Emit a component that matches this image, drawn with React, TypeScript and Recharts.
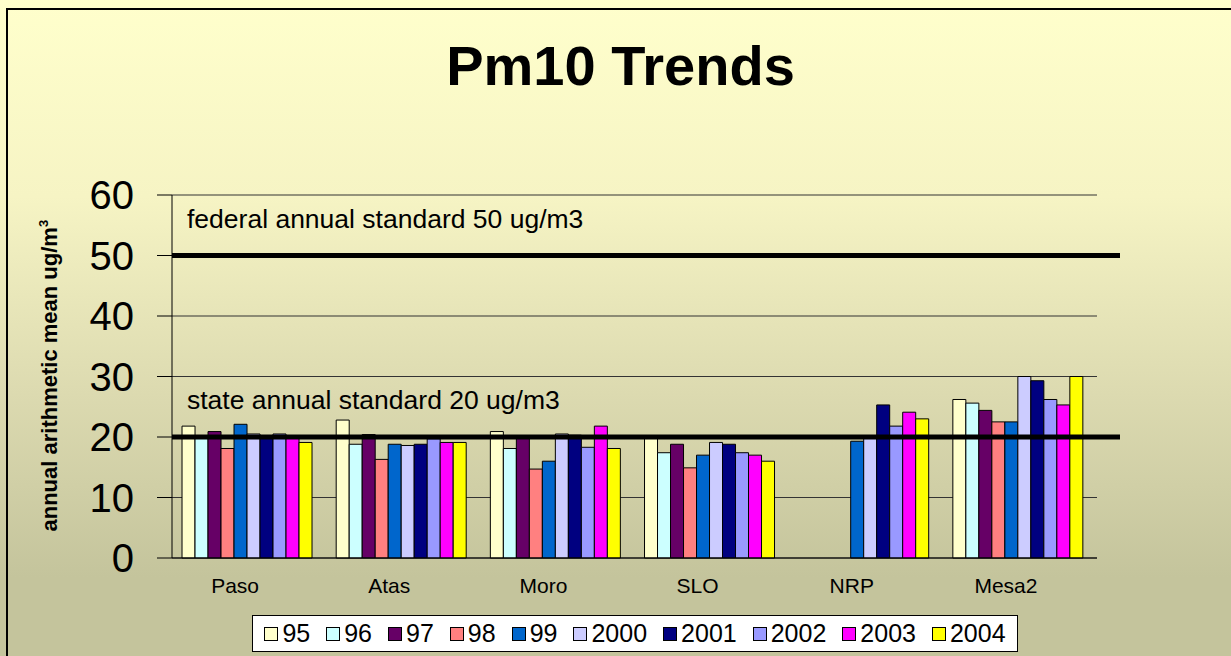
import React from 'react';
import { BarChart, Bar, XAxis, YAxis, CartesianGrid, ReferenceLine } from 'recharts';

const sites = ['Paso', 'Atas', 'Moro', 'SLO', 'NRP', 'Mesa2'];
const years = ['95', '96', '97', '98', '99', '2000', '2001', '2002', '2003', '2004'];
const yearColors = ['#FFFFCC', '#CCFFFF', '#660066', '#FF8080', '#0066CC', '#CCCCFF', '#000080', '#9999FF', '#FF00FF', '#FFFF00'];

// annual means per site, one value per year (null = no monitor that year)
const paso = [21.8, 20.0, 20.9, 18.1, 22.1, 20.5, 19.9, 20.5, 19.8, 19.1];
const atas = [22.8, 18.8, 20.4, 16.3, 18.8, 18.6, 18.8, 19.7, 19.1, 19.1];
const moro = [20.9, 18.1, 20.2, 14.7, 16.0, 20.5, 20.3, 18.3, 21.8, 18.1];
const slo = [19.9, 17.4, 18.8, 14.9, 17.0, 19.1, 18.8, 17.4, 17.0, 16.0];
const nrp = [null, null, null, null, 19.3, 19.9, 25.3, 21.8, 24.1, 23.0];
const mesa2 = [26.2, 25.6, 24.4, 22.5, 22.5, 30.0, 29.3, 26.2, 25.3, 30.0];
const siteValues = [paso, atas, moro, slo, nrp, mesa2];

const yTicks = [0, 10, 20, 30, 40, 50, 60];
const standards = [
  { value: 50, label: 'federal annual standard 50 ug/m3' },
  { value: 20, label: 'state annual standard 20 ug/m3' },
];

const data = sites.map((site, i) => {
  const row: any = { site };
  years.forEach((y, j) => {
    row[y] = siteValues[i][j];
  });
  return row;
});

const font = '"Liberation Sans", Arial, sans-serif';

const SiteTick = ({ x, y, payload }: any) => (
  <text x={x - 14} y={y} dy={33} textAnchor="middle" fontSize={21} fill="#000" fontFamily={font}>
    {payload.value}
  </text>
);

const standardLine = (label: string) => (props: any) => (
  <g>
    <line x1={props.x1} y1={props.y1} x2={props.x2 + 23} y2={props.y2} stroke="#000" strokeWidth={5} />
    <text x={props.x1 + 15} y={props.y1 - 28} fontSize={26.5} fill="#000" fontFamily={font}>
      {label}
    </text>
  </g>
);

export default function App() {
  return (
    <div
      style={{
        position: 'absolute',
        left: 0,
        top: 0,
        width: 1231,
        height: 656,
        overflow: 'hidden',
        fontFamily: font,
        background: 'linear-gradient(to bottom, #FFFFCC 0%, #F6F4C4 30%, #DCDAB0 60%, #C4C49C 88%, #C4C49C 100%)',
      }}
    >
      <div
        style={{
          position: 'absolute',
          left: 6,
          top: 8,
          width: 1240,
          height: 660,
          borderLeft: '2px solid #000',
          borderTop: '2px solid #000',
        }}
      />
      <div
        style={{
          position: 'absolute',
          left: 0,
          top: 33,
          width: 1241,
          textAlign: 'center',
          fontSize: 56,
          fontWeight: 'bold',
          color: '#000',
        }}
      >
        Pm10 Trends
      </div>
      <div
        style={{
          position: 'absolute',
          left: 47,
          top: 373,
          width: 400,
          marginLeft: -200,
          marginTop: -13,
          textAlign: 'center',
          transform: 'rotate(-90deg)',
          fontSize: 22,
          fontWeight: 'bold',
          whiteSpace: 'nowrap',
          lineHeight: '26px',
        }}
      >
        annual arithmetic mean ug/m<sup style={{ fontSize: 13 }}>3</sup>
      </div>
      <div style={{ position: 'absolute', left: 0, top: 0 }}>
        <BarChart
          width={1231}
          height={656}
          data={data}
          margin={{ top: 195, right: 134, left: 0, bottom: 58 }}
          barCategoryGap="6.5%"
          barGap={0}
        >
          <CartesianGrid vertical={false} stroke="#333" strokeWidth={1} />
          <XAxis
            dataKey="site"
            height={40}
            axisLine={{ stroke: '#000' }}
            tickLine={false}
            tickSize={0}
            tick={<SiteTick />}
          />
          <YAxis
            width={172}
            domain={[0, 60]}
            ticks={yTicks}
            interval={0}
            tickSize={15}
            tickMargin={23}
            axisLine={{ stroke: '#000' }}
            tickLine={{ stroke: '#000' }}
            tick={{ fontSize: 40, fill: '#000', fontFamily: font }}
          />
          {years.map((y, j) => (
            <Bar key={y} dataKey={y} fill={yearColors[j]} stroke="#000" strokeWidth={1} isAnimationActive={false} />
          ))}
          {standards.map((s) => (
            <ReferenceLine key={s.value} y={s.value} shape={standardLine(s.label)} />
          ))}
        </BarChart>
      </div>
      <div
        style={{
          position: 'absolute',
          left: 252,
          top: 615,
          width: 766,
          height: 37,
          boxSizing: 'border-box',
          background: '#fff',
          border: '1px solid #000',
          display: 'flex',
          alignItems: 'center',
          justifyContent: 'center',
          gap: 16,
          fontSize: 25,
        }}
      >
        {years.map((y, j) => (
          <div key={y} style={{ display: 'flex', alignItems: 'center' }}>
            <span
              style={{
                display: 'inline-block',
                width: 12,
                height: 12,
                background: yearColors[j],
                border: '1px solid #000',
                marginRight: 4,
              }}
            />
            <span>{y}</span>
          </div>
        ))}
      </div>
    </div>
  );
}
